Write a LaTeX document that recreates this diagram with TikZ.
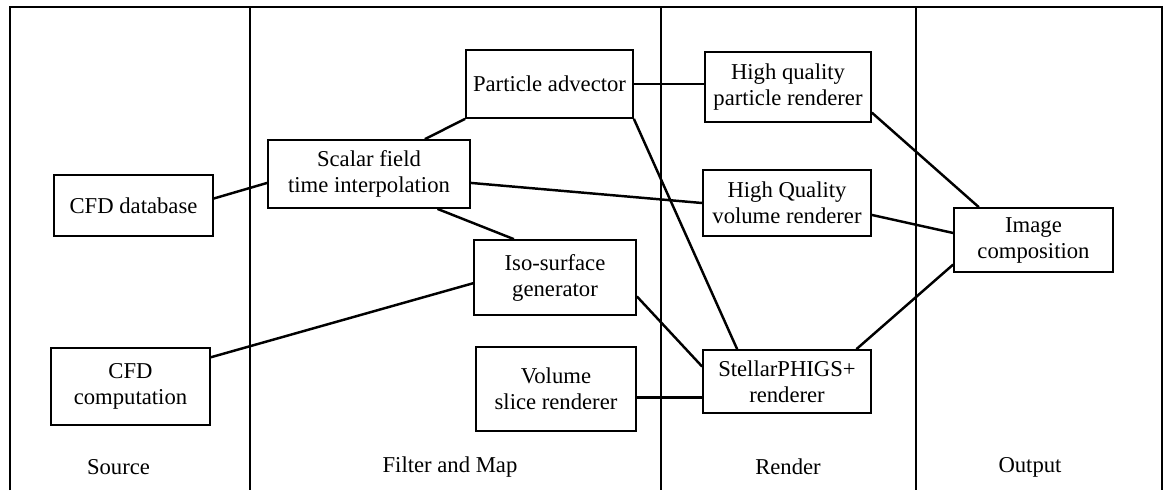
\documentclass[tikz,border=0pt]{standalone}
\usepackage{fontspec}
\setmainfont{Liberation Serif}
\begin{document}
\begin{tikzpicture}[x=1cm,y=-1cm,
		box/.style={draw,line width=1pt,align=center,inner sep=0pt,font=\fontsize{12.9}{14.8}\selectfont},
		link/.style={line width=1.4pt},
		lane/.style={line width=0.8pt},
		lanelabel/.style={font=\fontsize{12.9}{14.8}\selectfont}]
	\useasboundingbox (0,0) rectangle (23.32,9.80);
	\draw[lane](0.20,9.80)--(0.20,0.14)--(23.24,0.14)--(23.24,9.80);
	\draw[lane](5.00,0.14)--(5.00,9.80);
	\draw[lane](13.22,0.14)--(13.22,9.80);
	\draw[lane](18.32,0.14)--(18.32,9.80);
	\node[box,minimum width=3.18cm,minimum height=1.22cm] (db) at (2.67,4.11) {CFD database};
	\node[box,minimum width=3.18cm,minimum height=1.54cm] (comp) at (2.61,7.73) {CFD\\computation};
	\node[box,minimum width=4.04cm,minimum height=1.36cm] (scalar) at (7.38,3.48) {Scalar field\\time interpolation};
	\node[box,minimum width=3.34cm,minimum height=1.36cm] (advect) at (10.99,1.68) {Particle advector};
	\node[box,minimum width=3.24cm,minimum height=1.50cm] (iso) at (11.10,5.55) {Iso-surface\\generator};
	\node[box,minimum width=3.20cm,minimum height=1.68cm] (slice) at (11.12,7.78) {Volume\\slice renderer};
	\node[box,minimum width=3.32cm,minimum height=1.40cm] (hqpart) at (15.76,1.74) {High quality\\particle renderer};
	\node[box,minimum width=3.36cm,minimum height=1.32cm] (hqvol) at (15.74,4.06) {High Quality\\volume renderer};
	\node[box,minimum width=3.36cm,minimum height=1.26cm] (phigs) at (15.74,7.63) {StellarPHIGS+\\renderer};
	\node[box,minimum width=3.18cm,minimum height=1.28cm] (compose) at (20.67,4.80) {Image\\composition};
	\node[lanelabel] (source) at (2.37,9.34) {Source};
	\node[lanelabel] (filter) at (9.00,9.34) {Filter and Map};
	\node[lanelabel] (render) at (15.76,9.34) {Render};
	\node[lanelabel] (output) at (20.60,9.34) {Output};
	\draw[link](db.5)--(scalar.185);
	\draw[link](scalar.32)--(advect.south west);
	\draw[link](scalar.-27)--(iso.137);
	\draw[link](scalar.-5)--(hqvol.west);
	\draw[link](advect.east)--(advect.east -| hqpart.west);
	\draw[link](advect.south east)--(phigs.147);
	\draw[link](comp.20)--(iso.184);
	\draw[link](iso.-13.5)--(phigs.170);
	\draw[link](slice.-6)--(slice.-6 -| phigs.west);
	\draw[link](hqpart.-17)--(compose.149);
	\draw[link](hqvol.-8)--(compose.175);
	\draw[link](phigs.25)--(compose.197.5);
\end{tikzpicture}
\end{document}
